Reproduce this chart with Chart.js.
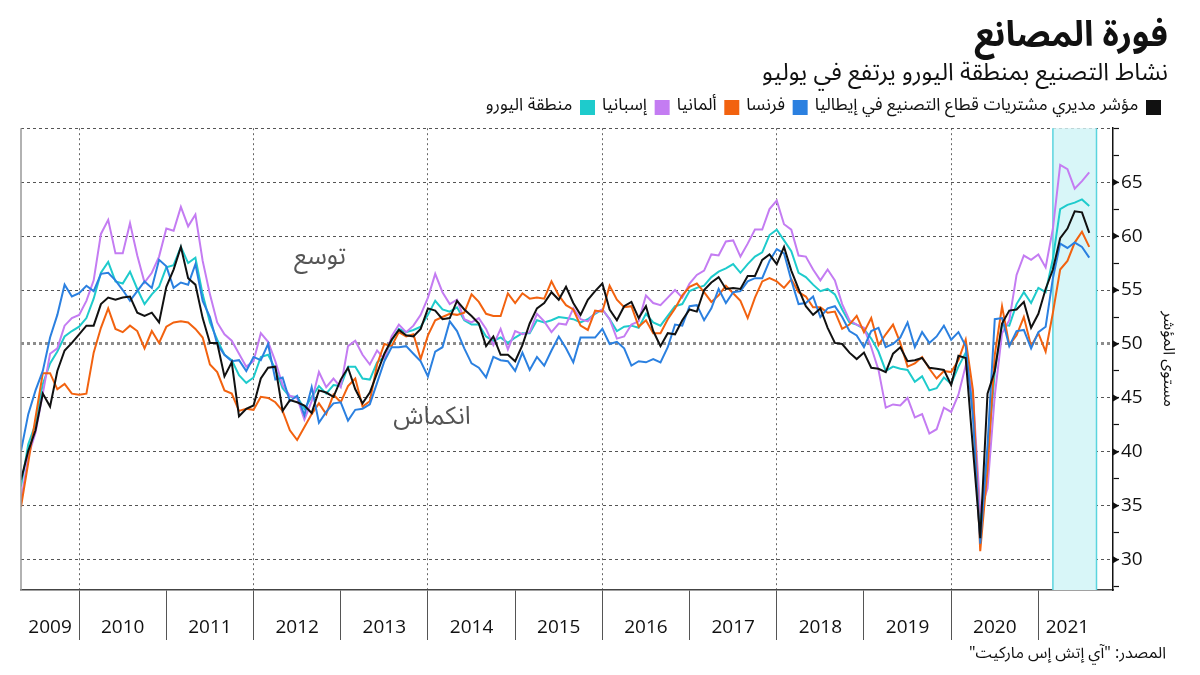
<!DOCTYPE html>
<html>
<head>
<meta charset="utf-8">
<script src="https://cdn.jsdelivr.net/npm/chart.js@4.4.1/dist/chart.umd.min.js"></script>
<style>
  html, body { margin: 0; padding: 0; background: #fff; }
  #c { display: block; }
</style>
</head>
<body>
<canvas id="c" width="1200" height="675"></canvas>
<script>
// monthly manufacturing PMI, Apr 2009 .. Jul 2021
const years = ['2009', '2010', '2011', '2012', '2013', '2014', '2015', '2016', '2017', '2018', '2019', '2020', '2021']

const italy = [
  37.4, 40.1, 42.0, 45.4, 44.2, 47.5, 49.4, 50.1, 50.9,
  51.7, 51.7, 53.7, 54.3, 54.1, 54.3, 54.4, 52.9, 52.6, 52.9, 52.0, 55.3,
  56.9, 59.0, 56.1, 55.5, 52.4, 50.1, 50.1, 47.0, 48.3, 43.3, 44.0, 44.3,
  46.8, 47.8, 47.9, 43.8, 44.8, 44.6, 44.3, 43.6, 45.7, 45.5, 45.1, 46.7,
  47.8, 45.8, 44.5, 45.5, 47.3, 49.1, 50.4, 51.3, 50.8, 50.7, 51.4, 53.3,
  53.1, 52.3, 52.4, 54.0, 53.2, 52.6, 51.9, 49.8, 50.7, 49.0, 49.0, 48.4,
  49.9, 51.9, 53.3, 53.8, 54.8, 54.1, 55.3, 53.8, 52.7, 54.1, 54.9, 55.6,
  53.2, 52.2, 53.5, 53.9, 52.4, 53.5, 51.2, 49.8, 51.0, 50.9, 52.2, 53.2,
  53.0, 55.0, 55.7, 56.2, 55.1, 55.2, 55.1, 56.3, 56.3, 57.8, 58.3, 57.4,
  59.0, 56.8, 55.1, 53.5, 52.7, 53.3, 51.5, 50.1, 50.0, 49.2, 48.6, 49.2,
  47.8, 47.7, 47.4, 49.1, 49.7, 48.4, 48.5, 48.7, 47.8, 47.7, 47.6, 46.2,
  48.9, 48.7, 40.3, 32.0, 45.4, 47.5, 51.9, 53.1, 53.2, 53.9, 51.5, 52.8,
  55.1, 56.9, 59.8, 60.7, 62.3, 62.2, 60.3
]

const france = [
  40.1, 43.5, 45.7, 47.5, 50.6, 52.7, 55.5, 54.4, 54.7,
  55.4, 54.9, 56.5, 56.6, 55.9, 55.0, 54.0, 54.9, 55.8, 55.2, 57.8, 57.2,
  55.2, 55.7, 55.5, 57.4, 54.0, 52.5, 50.0, 49.0, 48.4, 48.5, 47.5, 48.8,
  48.5, 50.0, 46.7, 46.9, 44.7, 45.2, 43.4, 46.0, 42.7, 43.7, 44.5, 44.6,
  42.9, 43.9, 44.0, 44.4, 46.4, 48.4, 49.7, 49.7, 49.8, 49.1, 48.4, 47.0,
  49.3, 49.7, 52.1, 51.2, 49.6, 48.2, 47.8, 46.9, 48.8, 48.5, 48.4, 47.5,
  49.2, 47.6, 48.8, 48.0, 49.4, 50.7, 49.6, 48.3, 50.6, 50.6, 50.6, 51.4,
  50.0, 50.2, 49.6, 48.0, 48.4, 48.3, 48.6, 48.3, 49.7, 51.8, 51.7, 53.5,
  53.6, 52.2, 53.3, 55.1, 53.8, 54.8, 54.9, 55.8, 56.1, 56.1, 57.7, 58.8,
  58.4, 55.9, 53.7, 53.8, 54.4, 52.5, 53.3, 53.5, 52.5, 51.2, 50.8, 49.7,
  51.2, 51.5, 49.7, 50.0, 50.6, 52.0, 49.7, 51.1, 50.1, 50.7, 51.7, 50.4,
  51.1, 49.8, 43.2, 31.5, 40.6, 52.3, 52.4, 49.8, 51.2, 51.3, 49.6, 51.1,
  51.6, 56.1, 59.3, 58.9, 59.4, 59.0, 58.0
]

// orange line
const orangeSeries = [
  34.9, 39.0, 43.2, 47.3, 47.3, 45.8, 46.3, 45.4, 45.3,
  45.4, 49.2, 51.5, 53.3, 51.4, 51.1, 51.7, 51.2, 49.6, 51.2, 50.1, 51.6,
  52.0, 52.1, 52.0, 51.4, 50.6, 48.1, 47.4, 45.7, 45.4, 43.8, 44.0, 43.9,
  45.1, 45.0, 44.6, 43.8, 42.0, 41.1, 42.3, 43.5, 44.5, 43.5, 45.3, 44.6,
  46.1, 46.8, 44.2, 44.7, 48.1, 50.0, 49.8, 51.1, 50.7, 50.9, 48.6, 50.8,
  52.2, 52.5, 52.8, 52.7, 52.9, 54.6, 53.9, 52.8, 52.6, 52.6, 54.7, 53.8,
  54.7, 54.2, 54.3, 54.2, 55.8, 54.5, 53.6, 53.2, 51.7, 51.3, 53.1, 53.0,
  55.4, 54.1, 53.4, 53.5, 51.6, 52.2, 51.0, 51.0, 52.3, 53.3, 54.5, 55.3,
  55.6, 54.8, 53.9, 54.5, 55.4, 54.7, 54.0, 52.4, 54.3, 55.8, 56.1, 55.8,
  55.2, 56.0, 54.8, 54.4, 53.4, 53.4, 52.9, 53.0, 51.4, 51.8, 52.6, 51.1,
  52.4, 49.9, 50.9, 51.8, 50.1, 47.9, 48.2, 48.8, 47.7, 46.8, 47.5, 47.4,
  48.5, 50.4, 45.7, 30.8, 38.3, 49.0, 53.5, 49.9, 50.8, 52.5, 49.8, 51.0,
  49.3, 52.9, 56.9, 57.7, 59.4, 60.4, 59.0
]

// purple line
const purpleSeries = [
  35.4, 39.6, 41.8, 45.4, 49.1, 49.6, 51.7, 52.4, 52.7,
  54.0, 55.9, 60.2, 61.5, 58.4, 58.4, 61.2, 58.2, 55.7, 56.6, 58.1, 60.7,
  60.5, 62.7, 60.9, 62.0, 57.7, 54.6, 52.0, 50.9, 50.3, 49.1, 47.9, 48.4,
  51.0, 50.2, 48.4, 46.2, 45.2, 45.0, 43.0, 44.7, 47.4, 46.0, 46.8, 46.0,
  49.8, 50.3, 49.0, 48.1, 49.4, 48.6, 50.7, 51.8, 51.1, 51.7, 52.7, 54.3,
  56.5, 54.8, 53.7, 54.1, 52.3, 52.0, 52.4, 51.4, 49.9, 51.4, 49.5, 51.2,
  50.9, 51.1, 52.8, 52.1, 51.1, 51.9, 51.8, 53.3, 52.3, 52.1, 52.9, 53.2,
  52.3, 50.5, 50.7, 51.8, 52.1, 54.5, 53.8, 53.6, 54.3, 55.0, 54.3, 55.6,
  56.4, 56.8, 58.3, 58.2, 59.5, 59.6, 58.1, 59.3, 60.6, 60.6, 62.5, 63.3,
  61.1, 60.6, 58.2, 58.1, 56.9, 55.9, 56.9, 55.9, 53.7, 52.2, 51.8, 51.5,
  49.7, 47.6, 44.1, 44.4, 44.3, 45.0, 43.2, 43.5, 41.7, 42.1, 44.1, 43.7,
  45.3, 48.0, 45.4, 34.5, 36.6, 45.2, 51.0, 52.2, 56.4, 58.2, 57.8, 58.3,
  57.1, 60.7, 66.6, 66.2, 64.4, 65.1, 65.9
]

const eurozone = [
  36.8, 40.7, 42.6, 46.3, 48.2, 49.3, 50.7, 51.2, 51.6,
  52.4, 54.2, 56.6, 57.6, 55.8, 55.6, 56.7, 55.1, 53.7, 54.6, 55.3, 57.1,
  57.3, 59.0, 57.5, 58.0, 54.6, 52.0, 50.4, 49.0, 48.5, 47.1, 46.4, 46.9,
  48.8, 49.0, 47.7, 45.9, 45.1, 45.1, 44.0, 45.1, 46.1, 45.4, 46.2, 46.1,
  47.9, 47.9, 46.8, 46.7, 48.3, 48.8, 50.3, 51.4, 51.1, 51.3, 51.6, 52.7,
  54.0, 53.2, 53.0, 53.4, 52.2, 51.8, 51.8, 50.7, 50.3, 50.6, 50.1, 50.6,
  51.0, 51.0, 52.2, 52.0, 52.2, 52.5, 52.4, 52.3, 52.0, 52.3, 52.8, 53.2,
  52.3, 51.2, 51.6, 51.7, 51.5, 52.8, 52.0, 51.7, 52.6, 53.5, 53.7, 54.9,
  55.2, 55.4, 56.2, 56.7, 57.0, 57.4, 56.6, 57.4, 58.1, 58.5, 60.1, 60.6,
  59.6, 58.6, 56.6, 56.2, 55.5, 54.9, 55.1, 54.6, 53.2, 52.0, 51.8, 51.4,
  50.5, 49.3, 47.5, 47.9, 47.7, 47.6, 46.5, 47.0, 45.7, 45.9, 46.9, 46.3,
  47.9, 49.2, 44.5, 33.4, 39.4, 47.4, 51.8, 51.7, 53.7, 54.8, 53.8, 55.2,
  54.8, 57.9, 62.5, 62.9, 63.1, 63.4, 62.8
]

const seriesLabels = ['مؤشر مديري مشتريات قطاع التصنيع في إيطاليا', 'فرنسا', 'ألمانيا', 'إسبانيا', 'منطقة اليورو']
const seriesColors = ['#111111', '#2b80e0', '#f2620f', '#c47cf2', '#1ecbcc']
const seriesValues = [italy, france, orangeSeries, purpleSeries, eurozone]

// position of a month on the x scale (first point = Apr 2009 at 0)
const monthPos = (y, m) => (y - 2009) * 12 + m - 4
const boundaries = years.slice(1).map(y => monthPos(+y - 1, 12))
const bandFrom = monthPos(2021, 2)
const bandTo = monthPos(2021, 8)

const datasets = seriesValues.map((vals, k) => ({
  label: seriesLabels[k],
  data: vals.map((v, i) => ({ x: i, y: v })),
  borderColor: seriesColors[k],
  backgroundColor: seriesColors[k],
  borderWidth: 2,
  pointRadius: 0,
  tension: 0
}))

const arabic = '"Noto Sans Arabic", "DejaVu Sans", sans-serif'

const decor = {
  id: 'decor',
  beforeDatasetsDraw(chart) {
    const { ctx, chartArea: a, scales: { x } } = chart
    const x1 = x.getPixelForValue(bandFrom), x2 = x.getPixelForValue(bandTo)
    ctx.save()
    ctx.fillStyle = '#d8f6f8'
    ctx.fillRect(x1, a.top, x2 - x1, a.bottom - a.top)
    ctx.strokeStyle = '#5ad4de'
    ctx.lineWidth = 1.5
    ctx.beginPath()
    ctx.moveTo(x1, a.top); ctx.lineTo(x1, a.bottom)
    ctx.moveTo(x2, a.top); ctx.lineTo(x2, a.bottom)
    ctx.stroke()
    ctx.restore()
  },
  afterDraw(chart) {
    const { ctx, chartArea: a, scales: { x, y } } = chart
    ctx.save()
    // left frame line
    ctx.strokeStyle = '#999'
    ctx.lineWidth = 1.5
    ctx.beginPath(); ctx.moveTo(a.left, a.top); ctx.lineTo(a.left, a.bottom); ctx.stroke()

    // small arrow heads on the value axis
    ctx.fillStyle = '#111'
    y.ticks.forEach(t => {
      if (t.value % 5 !== 0 || t.value >= 70) return
      const py = y.getPixelForValue(t.value)
      ctx.beginPath()
      ctx.moveTo(a.right, py - 3.5); ctx.lineTo(a.right + 6, py); ctx.lineTo(a.right, py + 3.5)
      ctx.closePath(); ctx.fill()
    })

    // year labels between boundaries
    ctx.fillStyle = '#111'
    ctx.font = '19px "Open Sans", sans-serif'
    ctx.textAlign = 'center'
    ctx.textBaseline = 'middle'
    const edges = [0, ...boundaries, bandTo]
    years.forEach((yr, k) => {
      const cx = (x.getPixelForValue(edges[k]) + x.getPixelForValue(edges[k + 1])) / 2
      ctx.fillText(yr, cx, 628)
    })

    // zone notes
    ctx.direction = 'rtl'
    ctx.fillStyle = '#555'
    ctx.font = '25px ' + arabic
    ctx.fillText('توسع', 320, 260)
    ctx.fillText('انكماش', 432, 420)

    // source
    ctx.fillStyle = '#111'
    ctx.font = '16px ' + arabic
    ctx.textAlign = 'right'
    ctx.fillText('المصدر: "آي إتش إس ماركيت"', 1166, 656)

    // axis title
    ctx.translate(1166, (a.top + a.bottom) / 2)
    ctx.rotate(Math.PI / 2)
    ctx.textAlign = 'center'
    ctx.font = '16px ' + arabic
    ctx.fillText('مستوى المؤشر', 0, 0)
    ctx.restore()
  }
}

new Chart(document.getElementById('c'), {
  type: 'line',
  data: { datasets },
  options: {
    responsive: false,
    animation: false,
    devicePixelRatio: 1,
    layout: { padding: { left: 21, right: 32, top: 0, bottom: 0 } },
    plugins: {
      title: {
        display: true,
        text: 'فورة المصانع',
        align: 'end',
        color: '#111',
        font: { family: arabic, size: 35, weight: 'bold' },
        padding: { top: 20, bottom: 0 }
      },
      subtitle: {
        display: true,
        text: 'نشاط التصنيع بمنطقة اليورو يرتفع في يوليو',
        align: 'end',
        color: '#111',
        font: { family: arabic, size: 24 },
        padding: { top: 0, bottom: 0 }
      },
      legend: {
        position: 'top',
        align: 'start',
        rtl: true,
        textDirection: 'rtl',
        labels: {
          color: '#111',
          boxWidth: 13,
          boxHeight: 13,
          padding: 8,
          font: { family: arabic, size: 17.4 }
        }
      },
      tooltip: { enabled: false }
    },
    scales: {
      x: {
        type: 'linear',
        min: 0,
        max: 150.27,
        afterBuildTicks: s => { s.ticks = boundaries.map(v => ({ value: v })) },
        afterFit: s => { s.height = 85 },
        ticks: { display: false },
        grid: {
          color: c => (c.tick && ((c.tick.value - boundaries[0]) / 12) % 2 === 0) ? '#666' : 'rgba(0,0,0,0)',
          lineWidth: 1,
          tickColor: '#555',
          tickLength: 50,
          tickWidth: 1
        },
        border: { display: true, color: '#444', width: 1.5, dash: [2, 3] }
      },
      spacer: {
        type: 'linear',
        axis: 'x',
        position: 'top',
        min: 0,
        max: 1,
        afterFit: s => { s.height = 2 },
        ticks: { display: false },
        grid: { display: false, drawTicks: false },
        border: { display: false }
      },
      y: {
        position: 'right',
        min: 27.2,
        max: 70,
        afterFit: s => { s.width = 55 },
        ticks: {
          stepSize: 2.5,
          includeBounds: false,
          autoSkip: false,
          padding: 2,
          color: '#111',
          font: { family: '"Open Sans", sans-serif', size: 19 },
          callback: v => (v % 5 === 0 && v < 70) ? v : ''
        },
        grid: {
          color: c => c.tick.value % 5 !== 0 ? 'rgba(0,0,0,0)' : (c.tick.value === 50 ? '#8c8c8c' : '#555'),
          lineWidth: c => c.tick.value === 50 ? 3 : 1,
          tickColor: '#111',
          tickLength: 6,
          tickWidth: 1.2
        },
        border: { display: true, color: '#111', width: 1.5, dash: [3, 3] }
      }
    }
  },
  plugins: [decor]
})
</script>
</body>
</html>
